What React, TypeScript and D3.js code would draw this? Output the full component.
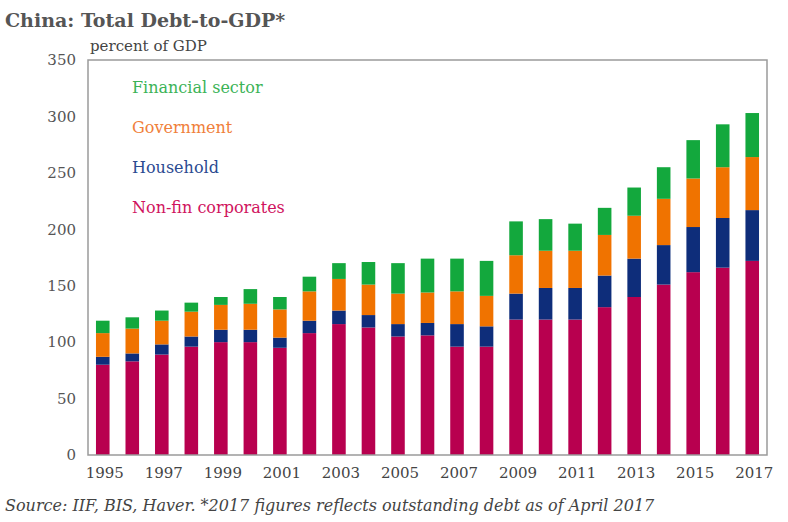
import { useEffect, useRef } from 'react'
import * as d3 from 'd3'

const years = d3.range(1995, 2018).map(String)
const nonFin = [80, 83, 89, 96, 100, 100, 95, 108, 116, 113, 105, 106, 96, 96, 120, 120, 120, 131, 140, 151, 162, 166, 172]
const household = [7, 7, 9, 9, 11, 11, 9, 11, 12, 11, 11, 11, 20, 18, 23, 28, 28, 28, 34, 35, 40, 44, 45]
const government = [21, 22, 21, 22, 22, 23, 25, 26, 28, 27, 27, 27, 29, 27, 34, 33, 33, 36, 38, 41, 43, 45, 47]
const financial = [11, 10, 9, 8, 7, 13, 11, 13, 14, 20, 27, 30, 29, 31, 30, 28, 24, 24, 25, 28, 34, 38, 39]
const seriesKeys = ['nonFin', 'household', 'government', 'financial']
const seriesLabels = ['Non-fin corporates', 'Household', 'Government', 'Financial sector']
const yTicks = [0, 50, 100, 150, 200, 250, 300, 350]

const barColors = ['#B8004F', '#0E2D7A', '#F07300', '#13A83D']
const labelColors = ['#D0135E', '#2B4A91', '#F0803A', '#3BB356']

export default function App() {
  const svgRef = useRef<SVGSVGElement>(null)
  const width = 788
  const height = 522

  useEffect(() => {
    if (!svgRef.current) return
    const svg = d3.select(svgRef.current)
    svg.selectAll('*').remove()

    const left = 88, right = 767, top = 60, bottom = 455
    const font = '"DejaVu Serif", serif'

    const rows = years.map((y, i) => ({
      year: y,
      nonFin: nonFin[i],
      household: household[i],
      government: government[i],
      financial: financial[i]
    }))

    const x = d3.scaleBand().domain(years).range([left, right]).paddingInner(0.54).paddingOuter(0.27)
    const y = d3.scaleLinear().domain([0, 350]).range([bottom, top])

    const stacked = d3.stack<any>().keys(seriesKeys)(rows)

    // Bars
    svg.append('g')
      .selectAll('g')
      .data(stacked)
      .join('g')
      .attr('fill', (_d, i) => barColors[i])
      .selectAll('rect')
      .data(d => d)
      .join('rect')
      .attr('x', d => x(d.data.year)!)
      .attr('width', x.bandwidth())
      .attr('y', d => y(d[1]))
      .attr('height', d => y(d[0]) - y(d[1]))

    // Frame
    svg.append('rect')
      .attr('x', left)
      .attr('y', top)
      .attr('width', right - left)
      .attr('height', bottom - top)
      .attr('fill', 'none')
      .attr('stroke', '#9a9a9a')
      .attr('stroke-width', 1.5)

    // Y tick labels
    svg.append('g')
      .selectAll('text')
      .data(yTicks)
      .join('text')
      .attr('x', 76)
      .attr('y', d => y(d))
      .attr('dy', '0.35em')
      .attr('text-anchor', 'end')
      .style('font-family', font)
      .style('font-size', '15px')
      .style('fill', '#555')
      .text(d => d)

    // X tick labels
    svg.append('g')
      .selectAll('text')
      .data(years.filter((_d, i) => i % 2 === 0))
      .join('text')
      .attr('x', d => x(d)! + x.bandwidth() / 2 + 2)
      .attr('y', 473)
      .attr('dy', '0.35em')
      .attr('text-anchor', 'middle')
      .style('font-family', font)
      .style('font-size', '15px')
      .style('fill', '#444')
      .text(d => d)

    // Legend
    const legendY = [207, 167, 127, 87]
    svg.append('g')
      .selectAll('text')
      .data(seriesLabels)
      .join('text')
      .attr('x', 132)
      .attr('y', (_d, i) => legendY[i])
      .attr('dy', '0.35em')
      .style('font-family', font)
      .style('font-size', '16px')
      .style('fill', (_d, i) => labelColors[i])
      .text(d => d)

    // Title
    svg.append('text')
      .attr('x', 5)
      .attr('y', 20)
      .attr('dy', '0.35em')
      .style('font-family', font)
      .style('font-size', '19px')
      .style('font-weight', 'bold')
      .style('fill', '#555')
      .text('China: Total Debt-to-GDP*')

    // Unit label
    svg.append('text')
      .attr('x', 90)
      .attr('y', 46)
      .attr('dy', '0.35em')
      .style('font-family', font)
      .style('font-size', '15px')
      .style('fill', '#444')
      .text('percent of GDP')

    // Source
    svg.append('text')
      .attr('x', 5)
      .attr('y', 505)
      .attr('dy', '0.35em')
      .style('font-family', font)
      .style('font-size', '16px')
      .style('font-style', 'italic')
      .style('fill', '#444')
      .text('Source: IIF, BIS, Haver. *2017 figures reflects outstanding debt as of April 2017')
  }, [])

  return <svg ref={svgRef} width={width} height={height} style={{ display: 'block', position: 'absolute', left: 0, top: 0 }} />
}
